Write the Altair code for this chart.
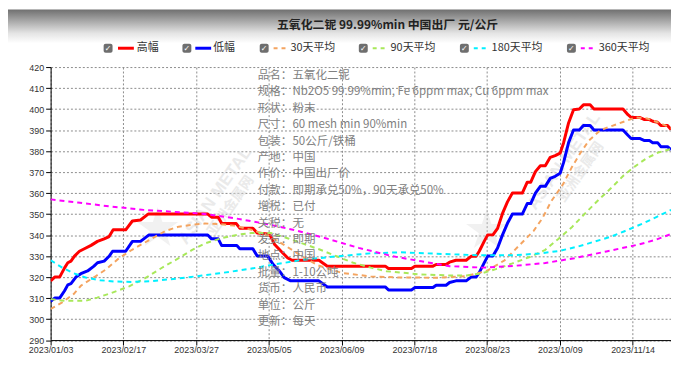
import json
import altair as alt
import pandas as pd

# ---------------- data ----------------
TITLE = "五氧化二铌 99.99%min 中国出厂 元/公斤"
X_TICK_LABELS = ["2023/01/03", "2023/02/17", "2023/03/27", "2023/05/05", "2023/06/09",
                 "2023/07/18", "2023/08/23", "2023/10/09", "2023/11/14"]
X_TICK_STEP = 25          # trading-day index between labelled ticks
X_MAX = 213.2             # index of the last day
Y_MIN, Y_MAX, Y_STEP = 290, 420, 10

SERIES_NAMES = ["高幅", "低幅", "30天平均", "90天平均", "180天平均", "360天平均"]
SERIES_COLORS = ["#ff0000", "#0000ff", "#f4a460", "#a8e85a", "#00f0ff", "#ff00ff"]

# (day index, price) vertices
HIGH = [(0, 318.2), (1.4, 320), (3.1, 320), (4.8, 324.4), (5.9, 326.8), (7.0, 327.6), (8.2, 330),
        (9.9, 332.3), (11.6, 333.5), (13.9, 335.1), (16.1, 337), (18.4, 338.2), (20.1, 339.3),
        (21.5, 342.5), (25.8, 342.5), (28.1, 346.7), (30.9, 347.2), (33.5, 350), (54, 350),
        (55.3, 348.5), (57.6, 348.5), (58.8, 345.5), (63.8, 345.5), (65, 343.3), (69.5, 343.3),
        (71, 341), (74.6, 340.5), (75.6, 339.5), (77, 335.5), (79.2, 332.3), (81.5, 329.1),
        (83, 328), (92.2, 328), (95.1, 325.2), (115, 325.2), (116.1, 324.1), (124, 324.1),
        (125.2, 325.2), (131.4, 325.2), (132.5, 326), (135.9, 326), (137.1, 327.1), (139.3, 328),
        (142.8, 328), (144.5, 329.9), (146.2, 329.9), (147.3, 332.3), (149, 337), (150.2, 340.1),
        (152, 340.1), (153.6, 343.2), (155.3, 350.3), (157, 355.8), (158.7, 360), (162.1, 360),
        (163.8, 365.2), (165, 365.2), (166.6, 370.2), (168.3, 373), (170, 373), (171.7, 377),
        (173.4, 377.8), (175.1, 379), (176.3, 384), (178, 393.4), (179.7, 399.7), (181.7, 400),
        (183.1, 402), (185.4, 402), (186.7, 400), (196.7, 400), (198.4, 397.3), (199.5, 396),
        (202.4, 396), (204.1, 395), (205.8, 395), (206.9, 394.2), (208.6, 393.7), (209.7, 392.2),
        (212, 392.2), (213.2, 390.3)]

LOW = [(0, 308.4), (1.4, 310), (3.1, 310), (4.8, 313.5), (5.9, 316.3), (7.0, 316.9), (8.7, 320),
       (10.4, 321.6), (12.7, 322.9), (14.9, 325.2), (16.1, 326.8), (18.4, 327.6), (20.1, 329.9),
       (21.3, 332.3), (25.8, 332.3), (28.1, 337), (30.9, 337), (33.7, 340), (54, 340),
       (55.3, 338.2), (57.6, 338.2), (58.8, 335), (64, 335), (65, 333.5), (69.5, 333.5),
       (71, 330), (74.6, 330), (76.5, 326), (78.6, 322.9), (80.3, 319.7), (82.5, 318.2),
       (92.2, 318.2), (95.1, 315.3), (115, 315.3), (116.1, 313.9), (124, 313.9), (125.2, 315),
       (131.4, 315), (132.5, 316.1), (135.9, 316.1), (137.1, 317.4), (139.3, 318.2),
       (142.8, 318.2), (144.5, 320), (146.2, 320), (147.3, 322.1), (149, 326.8), (150.2, 330),
       (152, 330), (153.6, 333.8), (155.3, 340.1), (157, 345.6), (158.7, 350), (162.1, 350),
       (163.8, 355), (165, 355), (166.6, 360), (168.3, 363.2), (170, 363.2), (171.7, 367),
       (173.4, 368), (175.1, 369.4), (176.3, 374.6), (178, 384), (179.7, 390), (181.7, 390),
       (183.1, 392.2), (185.4, 392.2), (186.7, 390), (196.7, 390), (198.4, 387.5), (199.5, 386),
       (202.4, 386), (204.1, 385), (205.8, 385), (206.9, 384), (208.6, 384), (209.7, 382.1),
       (212, 382.1), (213.2, 380.6)]

MA30 = [(0, 304.8), (4, 308), (8, 312), (10.5, 316), (15.6, 320.5), (19, 323.6), (23.5, 329),
        (28, 333), (35, 338.5), (39.5, 342), (44, 344), (49, 345), (53, 345.5), (57.6, 345.3),
        (63, 344.5), (69, 342.5), (74.6, 340), (79.2, 336.2), (83.5, 332.5), (87.5, 329),
        (92, 325.5), (100, 322), (110, 320.3), (120, 319.8), (133, 319.7), (143, 320.5),
        (150, 323), (156, 328), (161, 335), (166, 342), (169, 348), (172, 356), (176, 364),
        (179, 372), (182, 379), (185, 385), (189, 390), (193, 392), (198, 394.5), (201, 396),
        (205, 395.5), (209, 393.5), (213.2, 391)]

MA90 = [(0, 309.5), (5, 308.7), (12, 308.7), (16, 310.2), (21, 312.5), (27, 315.6), (32.5, 319.5),
        (38, 324.2), (44, 329), (48.5, 332.8), (53, 336), (58.7, 338.5), (64.3, 340.2), (69, 341),
        (75.7, 341), (81.4, 338.5), (87, 335.8), (92.7, 333), (98.5, 329.8), (104, 326.8),
        (110, 324.5), (115.4, 322.8), (126.7, 321.3), (138, 320.7), (143, 320.8), (148, 321.7),
        (153, 323.8), (158.7, 326.5), (165.5, 330), (170, 333), (174.6, 338.3), (179.3, 344),
        (184, 350.8), (188.5, 357), (192.7, 362.5), (197, 368.5), (200.6, 372.5), (204.5, 376.3),
        (208.8, 379.3), (213.2, 381)]

MA180 = [(0, 328), (4, 324.5), (8, 321.8), (12, 319.8), (17, 318.5), (22, 317.9), (28, 317.7),
         (34, 318), (40, 318.8), (46, 319.7), (52, 320.7), (58, 321.8), (64, 323), (70, 324.3),
         (76, 325.8), (87, 328.3), (98.5, 329.9), (110, 331.3), (120, 331.8), (135, 331),
         (147, 330.4), (158.7, 330.4), (168, 331.2), (175, 332.5), (181.4, 334.6), (186, 336.5),
         (192.7, 339.3), (197, 341.7), (204.3, 346), (208.5, 348.8), (213.2, 352)]

MA360 = [(0, 357), (9.3, 355.5), (20.7, 353.6), (32, 352), (42, 351.1), (52, 350.2), (63.3, 348),
         (74.6, 345.2), (84.9, 342), (94.5, 338.5), (105.9, 333.9), (117.3, 330), (127.4, 327.5),
         (137.1, 325.2), (148.5, 324.5), (159.8, 325.4), (170, 326.7), (180, 329), (191, 332.2),
         (202.4, 335.6), (208, 337.8), (213.2, 340.5)]

INFO_LABELS = ["品名：", "规格：", "形状：", "尺寸：", "包装：", "产地：", "作价：", "付款：",
               "增税：", "关税：", "发货：", "地点：", "批量：", "货币：", "单位：", "更新："]
INFO_VALUES = ["五氧化二铌", "Nb2O5 99.99%min, Fe 6ppm max, Cu 6ppm max", "粉末",
               "60 mesh min 90%min", "50公斤/铁桶", "中国", "中国出厂价", "即期承兑50%，90天承兑50%",
               "已付", "无", "即期", "中国", "1-10公吨", "人民币", "公斤", "每天"]

WATERMARK_EN = "ASIAN METAL"
WATERMARK_CN = "亚洲金属网"

# ---------------- layout ----------------
PLOT_W = 626
PLOT_H = 275.5
PAD = {"left": 43, "top": 58, "right": 0, "bottom": 18}
CJK = "Noto Sans CJK SC"

one = pd.DataFrame({"k": [0]})

x_scale = alt.Scale(domain=[0, X_MAX], nice=False, zero=False)
y_scale = alt.Scale(domain=[Y_MIN, Y_MAX], nice=False, zero=False)
label_expr = json.dumps(X_TICK_LABELS, ensure_ascii=False) + f"[round(datum.value / {X_TICK_STEP})]"

x_axis = alt.Axis(values=[i * X_TICK_STEP for i in range(len(X_TICK_LABELS))], labelExpr=label_expr,
                  title=None, grid=True, gridDash=[2, 2], gridColor="#8c8c8c", gridWidth=1,
                  domainColor="#000000", tickColor="#000000", tickSize=5, labelFontSize=9,
                  labelFont="Liberation Sans", labelColor="#333333", labelPadding=1,
                  labelFlush=False, labelOverlap=False)
y_axis = alt.Axis(values=list(range(Y_MIN, Y_MAX + 1, Y_STEP)), title=None, grid=True,
                  gridDash=[2, 2], gridColor="#8c8c8c", gridWidth=1, domainColor="#000000",
                  tickColor="#000000", tickSize=5, labelFontSize=9, labelFont="Liberation Sans",
                  labelColor="#333333", labelPadding=2)

layers = []

# header gradient band
header = alt.Chart(one).mark_rect(
    fill=alt.Gradient(gradient="linear", x1=0, x2=0, y1=0, y2=1,
                      stops=[alt.GradientStop(color="#707070", offset=0),
                             alt.GradientStop(color="#aaaaaa", offset=0.35),
                             alt.GradientStop(color="#e4e4e4", offset=0.7),
                             alt.GradientStop(color="#ffffff", offset=1)])
).encode(x=alt.value(-PAD["left"]), x2=alt.value(PLOT_W), y=alt.value(-PAD["top"]), y2=alt.value(-24))
layers.append(header)

# faint watermarks
STAR = "M0,-1L0.22,-0.3L0.95,-0.31L0.36,0.12L0.59,0.81L0,0.38L-0.59,0.81L-0.36,0.12L-0.95,-0.31L-0.22,-0.3Z"
for sx, sy, ex, ey, cx, cy in [(108, 163, 166, 130, 182, 140), (440, 165, 518, 95, 535, 106)]:
    layers.append(alt.Chart(one).mark_point(shape=STAR, filled=True, size=1900, color="#d6d6d6",
                                            opacity=0.35, strokeWidth=0)
                  .encode(x=alt.value(sx), y=alt.value(sy)))
    layers.append(alt.Chart(one).mark_text(text=WATERMARK_EN, angle=305, fontSize=17, fontWeight="bold",
                                           font="Liberation Sans", color="#d9d9d9", opacity=0.55)
                  .encode(x=alt.value(ex), y=alt.value(ey)))
    layers.append(alt.Chart(one).mark_text(text=WATERMARK_CN, angle=305, fontSize=14, fontWeight="bold",
                                           font=CJK, color="#d9d9d9", opacity=0.55)
                  .encode(x=alt.value(cx), y=alt.value(cy)))

# series lines
styles = [(HIGH, 3, None), (LOW, 3, None), (MA30, 2, [5, 4]), (MA90, 2, [5, 4]),
          (MA180, 2, [5, 4]), (MA360, 2, [5, 4])]
for i, (pts, w, dash) in enumerate(styles):
    df = pd.DataFrame(pts, columns=["x", "y"])
    kw = dict(color=SERIES_COLORS[i], strokeWidth=w, clip=True, strokeJoin="round")
    if dash:
        kw["strokeDash"] = dash
    layers.append(alt.Chart(df).mark_line(**kw).encode(
        x=alt.X("x:Q", scale=x_scale, axis=x_axis),
        y=alt.Y("y:Q", scale=y_scale, axis=y_axis)))

# product info block (first line centred at INFO_TOP, following lines below)
INFO_TOP, INFO_LH = 75 - 66, 16.55
layers.append(alt.Chart(one).mark_text(text="\n".join(INFO_LABELS), lineBreak="\n", lineHeight=INFO_LH,
                                       align="left", baseline="middle", fontSize=11.6, font=CJK,
                                       color="#808080")
              .encode(x=alt.value(209), y=alt.value(INFO_TOP)))
layers.append(alt.Chart(one).mark_text(text="\n".join(INFO_VALUES), lineBreak="\n", lineHeight=INFO_LH,
                                       align="left", baseline="middle", fontSize=11.6, font=CJK,
                                       color="#808080")
              .encode(x=alt.value(244), y=alt.value(INFO_TOP)))

# legend (checkbox, sample line, label)
LEG_Y = 47 - 66
BOX_X = [58, 137.5, 215.5, 315.5, 417.5, 525.5]
LINE_X = [(68, 84), (146, 162), (225, 238), (325, 339), (427, 441), (535, 549)]
TEXT_X = [87, 164, 242, 343, 445, 553]
for i, name in enumerate(SERIES_NAMES):
    layers.append(alt.Chart(one).mark_rect(fill="#6e6e6e", cornerRadius=2).encode(
        x=alt.value(BOX_X[i] - 4.5), x2=alt.value(BOX_X[i] + 4.5),
        y=alt.value(LEG_Y - 4.5), y2=alt.value(LEG_Y + 4.5)))
    layers.append(alt.Chart(one).mark_text(text="✓", fontSize=8, fontWeight="bold", font="DejaVu Sans",
                                           color="#ffffff", align="center", baseline="middle")
                  .encode(x=alt.value(BOX_X[i]), y=alt.value(LEG_Y + 0.5)))
    rkw = dict(color=SERIES_COLORS[i], strokeWidth=3 if i < 2 else 2)
    if i >= 2:
        rkw["strokeDash"] = [4, 4]
    layers.append(alt.Chart(one).mark_rule(**rkw).encode(
        x=alt.value(LINE_X[i][0]), x2=alt.value(LINE_X[i][1]), y=alt.value(LEG_Y)))
    layers.append(alt.Chart(one).mark_text(text=name, fontSize=11, font=CJK, color="#333333",
                                           align="left", baseline="middle")
                  .encode(x=alt.value(TEXT_X[i]), y=alt.value(LEG_Y)))

# title
layers.append(alt.Chart(one).mark_text(text=TITLE, fontSize=12, fontWeight="bold", font=CJK,
                                       color="#222222", align="center", baseline="middle")
              .encode(x=alt.value(340), y=alt.value(24 - 66)))

chart = alt.layer(*layers).properties(
    width=PLOT_W, height=PLOT_H, padding=PAD,
    autosize=alt.AutoSizeParams(type="none"), background="white"
).configure_view(stroke=None)

chart.save("out.html", embed_options={"renderer": "svg", "actions": False})
